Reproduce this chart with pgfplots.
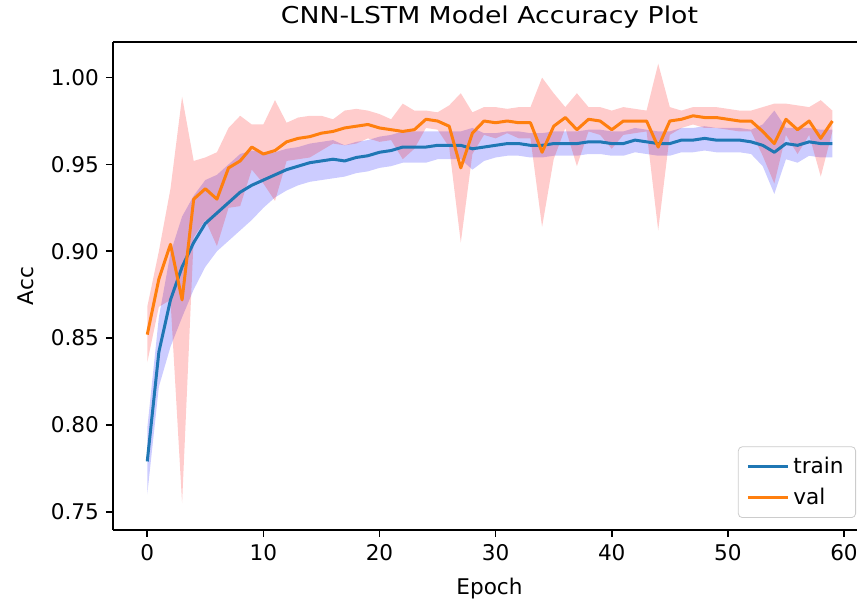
\documentclass[border=0pt]{standalone}
\usepackage{fontspec}
\setmainfont{DejaVu Sans}
\newfontfamily\titlefont{DejaVu Sans}[FakeStretch=1.15]
\usepackage{pgfplots}
\usepackage{pgfplotstable}
\pgfplotsset{compat=1.18}
\usepgfplotslibrary{fillbetween}

\definecolor{mplblue}{HTML}{1F77B4}
\definecolor{mplorange}{HTML}{FF7F0E}

% epoch, train mean/lower/upper, val mean/lower/upper
\pgfplotstableread{
e tm tlo thi vm vlo vhi
0 0.779 0.760 0.798 0.852 0.836 0.868
1 0.842 0.822 0.862 0.884 0.868 0.900
2 0.872 0.845 0.899 0.904 0.872 0.936
3 0.891 0.862 0.920 0.872 0.755 0.989
4 0.905 0.878 0.932 0.930 0.908 0.952
5 0.916 0.891 0.941 0.936 0.918 0.954
6 0.922 0.900 0.944 0.930 0.903 0.957
7 0.928 0.906 0.950 0.948 0.925 0.971
8 0.934 0.912 0.956 0.952 0.926 0.978
9 0.938 0.918 0.958 0.960 0.947 0.973
10 0.941 0.925 0.957 0.956 0.939 0.973
11 0.944 0.931 0.957 0.958 0.929 0.987
12 0.947 0.935 0.959 0.963 0.952 0.974
13 0.949 0.938 0.960 0.965 0.953 0.977
14 0.951 0.940 0.962 0.966 0.954 0.978
15 0.952 0.941 0.963 0.968 0.958 0.978
16 0.953 0.942 0.964 0.969 0.962 0.976
17 0.952 0.943 0.961 0.971 0.961 0.981
18 0.954 0.945 0.963 0.972 0.962 0.982
19 0.955 0.946 0.964 0.973 0.965 0.981
20 0.957 0.948 0.966 0.971 0.963 0.979
21 0.958 0.949 0.967 0.970 0.964 0.976
22 0.960 0.951 0.969 0.969 0.953 0.985
23 0.960 0.951 0.969 0.970 0.959 0.981
24 0.960 0.951 0.969 0.976 0.971 0.981
25 0.961 0.953 0.969 0.975 0.970 0.980
26 0.961 0.953 0.969 0.972 0.960 0.984
27 0.961 0.953 0.969 0.948 0.905 0.991
28 0.959 0.947 0.971 0.968 0.956 0.980
29 0.960 0.952 0.968 0.975 0.967 0.983
30 0.961 0.954 0.968 0.974 0.965 0.983
31 0.962 0.955 0.969 0.975 0.968 0.982
32 0.962 0.955 0.969 0.974 0.965 0.983
33 0.961 0.954 0.968 0.974 0.965 0.983
34 0.961 0.954 0.968 0.957 0.914 1.000
35 0.962 0.955 0.969 0.972 0.953 0.991
36 0.962 0.955 0.969 0.977 0.971 0.983
37 0.962 0.955 0.969 0.970 0.949 0.991
38 0.963 0.956 0.970 0.976 0.969 0.983
39 0.963 0.956 0.970 0.975 0.967 0.983
40 0.962 0.955 0.969 0.970 0.959 0.981
41 0.962 0.955 0.969 0.975 0.967 0.983
42 0.964 0.957 0.971 0.975 0.968 0.982
43 0.963 0.956 0.970 0.975 0.969 0.981
44 0.962 0.955 0.969 0.960 0.912 1.008
45 0.962 0.955 0.969 0.975 0.967 0.983
46 0.964 0.957 0.971 0.976 0.971 0.981
47 0.964 0.957 0.971 0.978 0.973 0.983
48 0.965 0.958 0.972 0.977 0.971 0.983
49 0.964 0.957 0.971 0.977 0.971 0.983
50 0.964 0.957 0.971 0.976 0.970 0.982
51 0.964 0.957 0.971 0.975 0.969 0.981
52 0.963 0.956 0.970 0.975 0.969 0.981
53 0.961 0.949 0.973 0.969 0.955 0.983
54 0.957 0.933 0.981 0.962 0.939 0.985
55 0.962 0.953 0.971 0.976 0.967 0.985
56 0.961 0.951 0.971 0.970 0.956 0.984
57 0.963 0.955 0.971 0.975 0.967 0.983
58 0.962 0.954 0.970 0.965 0.943 0.987
59 0.962 0.954 0.970 0.975 0.969 0.981
}\acc

\begin{document}
\begin{tikzpicture}
\begin{axis}[
  scale only axis, width=372pt, height=244pt,
  xmin=-2.95, xmax=61.12, ymin=0.7395, ymax=1.0205,
  axis y line*=left,
  tick pos=left, tick align=outside, major tick length=3.5pt,
  axis line style={line width=0.8pt},
  every tick/.style={black, line width=0.8pt},
  font=\fontsize{10.8}{13}\selectfont,
  xtick={0,10,20,30,40,50,60},
  ytick={0.75,0.8,0.85,0.9,0.95,1},
  /pgf/number format/assume math mode=true,
  yticklabel style={/pgf/number format/.cd, fixed, fixed zerofill, precision=2},
  title={\titlefont\fontsize{11.6}{14}\selectfont CNN-LSTM Model Accuracy Plot},
  title style={at={(axis description cs:0.506,1.037)}, anchor=base, yshift=-6pt},
  xlabel={Epoch},
  xlabel style={at={(axis description cs:0.506,-0.133)}, anchor=base},
  ylabel={Acc},
  ylabel style={at={(axis description cs:-0.1075,0.5)}, anchor=base},
  legend style={at={(1,0)}, anchor=south east, xshift=-0.5pt, yshift=6pt,
    draw=black!20, rounded corners=2pt, fill=white, fill opacity=0.8,
    text opacity=1, inner xsep=4pt, inner ysep=3pt, row sep=2pt,
    font=\fontsize{10.8}{13}\selectfont},
  legend cell align=left,
  legend image code/.code={\draw[#1] (0pt,0pt) -- (20pt,0pt);},
]
\addplot[name path=thi, draw=none, forget plot] table[x=e, y=thi] {\acc};
\addplot[name path=tlo, draw=none, forget plot] table[x=e, y=tlo] {\acc};
\addplot[blue, fill opacity=0.2, draw=none, forget plot] fill between[of=thi and tlo];
\addplot[name path=vhi, draw=none, forget plot] table[x=e, y=vhi] {\acc};
\addplot[name path=vlo, draw=none, forget plot] table[x=e, y=vlo] {\acc};
\addplot[red, fill opacity=0.2, draw=none, forget plot] fill between[of=vhi and vlo];

\addplot[mplblue, line width=1.5pt, line join=round] table[x=e, y=tm] {\acc};
\addlegendentry{train}
\addplot[mplorange, line width=1.5pt, line join=round] table[x=e, y=vm] {\acc};
\addlegendentry{val}
\end{axis}
\pgfresetboundingbox
\path (-56.5pt,-37pt) rectangle (372pt,265pt);
\end{tikzpicture}
\end{document}
